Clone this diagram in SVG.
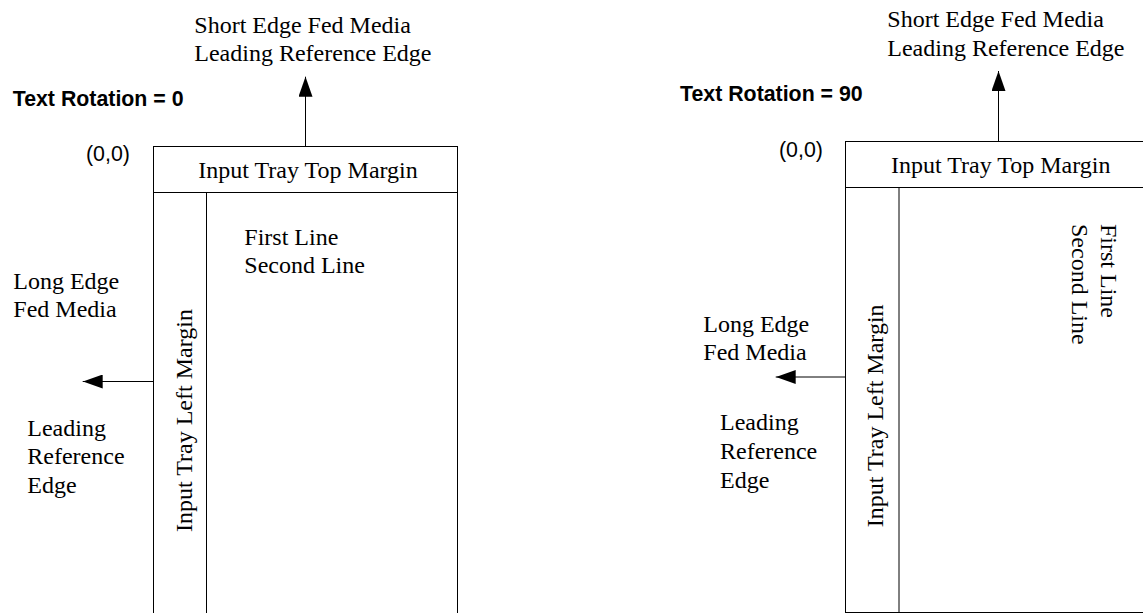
<svg xmlns="http://www.w3.org/2000/svg" width="1143" height="613" viewBox="0 0 1143 613">
<defs>
<style>
.box{fill:none;stroke:#000;stroke-width:1}
.conn{fill:none;stroke:#000;stroke-width:1}
.t{font-family:"Liberation Serif","Times New Roman",serif;font-size:24px;fill:#000}
.s{font-family:"Liberation Sans",Arial,sans-serif;font-size:21.33px;fill:#000}
.b{font-family:"Liberation Sans",Arial,sans-serif;font-size:21.33px;font-weight:bold;fill:#000}
</style>
<marker id="ah" viewBox="0 0 20 14" refX="20" refY="7" markerWidth="20" markerHeight="14" markerUnits="userSpaceOnUse" orient="auto">
<path d="M0,0 L20,7 L0,14 Z" fill="#000"/>
</marker>
</defs>
<rect width="1143" height="613" fill="#fff"/>

<g id="left-diagram">
<text class="b" x="12.7" y="106">Text Rotation = 0</text>
<text class="s" x="86" y="161">(0,0)</text>
<g id="left-tray">
<rect class="box" x="153.5" y="146.5" width="304" height="471"/>
</g>
<g id="left-top-margin">
<line class="box" x1="153.5" y1="192.5" x2="457.5" y2="192.5"/>
<text class="t" x="198.3" y="178.3">Input Tray Top Margin</text>
</g>
<g id="left-left-margin">
<line class="box" x1="206.5" y1="192.5" x2="206.5" y2="617.5"/>
<text class="t" transform="translate(191.7,532) rotate(-90)">Input Tray Left Margin</text>
</g>
<g id="left-content">
<text class="t" x="244.3" y="245">First Line</text>
<text class="t" x="244.3" y="273.3">Second Line</text>
</g>
<g id="left-short-edge">
<text class="t" x="194.3" y="32.5">Short Edge Fed Media</text>
<text class="t" x="194.3" y="61">Leading Reference Edge</text>
</g>
<g id="left-long-edge">
<text class="t" x="13.3" y="288.7">Long Edge</text>
<text class="t" x="13.3" y="317">Fed Media</text>
<text class="t" x="27.3" y="436">Leading</text>
<text class="t" x="27.3" y="464.3">Reference</text>
<text class="t" x="27.3" y="492.7">Edge</text>
</g>
</g>

<g id="right-diagram">
<text class="b" x="680" y="100.7">Text Rotation = 90</text>
<text class="s" x="779" y="156.7">(0,0)</text>
<g id="right-tray">
<rect class="box" x="845.5" y="141.5" width="304" height="471"/>
</g>
<g id="right-top-margin">
<line class="box" x1="845.5" y1="187.5" x2="1149.5" y2="187.5"/>
<text class="t" x="891" y="172.7">Input Tray Top Margin</text>
</g>
<g id="right-left-margin">
<line class="box" x1="899" y1="187.5" x2="899" y2="612.5"/>
<text class="t" transform="translate(883.3,527.3) rotate(-90)">Input Tray Left Margin</text>
</g>
<g id="right-content">
<text class="t" transform="translate(1100.5,224) rotate(90)">First Line</text>
<text class="t" transform="translate(1072,224) rotate(90)">Second Line</text>
</g>
<g id="right-short-edge">
<text class="t" x="887.3" y="27.3">Short Edge Fed Media</text>
<text class="t" x="887.3" y="56">Leading Reference Edge</text>
</g>
<g id="right-long-edge">
<text class="t" x="703.3" y="331.7">Long Edge</text>
<text class="t" x="703.3" y="360">Fed Media</text>
<text class="t" x="720" y="430">Leading</text>
<text class="t" x="720" y="459">Reference</text>
<text class="t" x="720" y="487.7">Edge</text>
</g>
</g>

<g id="connectors">
<line class="conn" x1="305.5" y1="146.5" x2="305.5" y2="76.7" marker-end="url(#ah)"/>
<line class="conn" x1="153.5" y1="381.5" x2="82.7" y2="381.5" marker-end="url(#ah)"/>
<line class="conn" x1="998.5" y1="141.5" x2="998.5" y2="71" marker-end="url(#ah)"/>
<line class="conn" x1="845.5" y1="377" x2="775.7" y2="377" marker-end="url(#ah)"/>
</g>
</svg>
